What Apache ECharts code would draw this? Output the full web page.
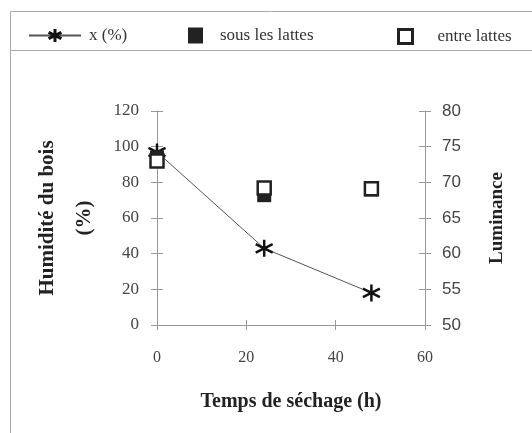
<!DOCTYPE html>
<html><head><meta charset="utf-8">
<script src="https://cdn.jsdelivr.net/npm/echarts@6/dist/echarts.min.js"></script>
<style>html,body{margin:0;padding:0;background:#fff}#c{width:532px;height:433px}</style>
</head><body><div id="c"></div>
<script>
const times = [0, 24, 48];
const humidity = [97, 43, 18];
const lumSous = [73.5, 68.2, 69];
const lumEntre = [73, 69.2, 69.1];
const xTicks = [0, 20, 40, 60];
const names = ['x (%)', 'sous les lattes', 'entre lattes'];

const star = 'path://M0,-10L0,10M-8.66,-5L8.66,5M-8.66,5L8.66,-5';
const serif = 'Liberation Serif';
const axisCol = '#999';

const chart = echarts.init(document.getElementById('c'));
const baseY = (min, max, itv, pos) => ({
  type: 'value', position: pos, min, max, interval: itv,
  axisLine: {show: true, onZero: false, lineStyle: {color: axisCol, width: 1}},
  axisTick: {show: true, length: 6, lineStyle: {color: axisCol}},
  splitLine: {show: false}
});
const leg = (item, left, w, h, pad) => ({
  data: [item], left, top: 22 + (16 - h) / 2, itemWidth: w, itemHeight: h,
  textStyle: {fontFamily: serif, fontSize: 17, color: '#333', padding: [0, 0, 0, pad]},
  selectedMode: false
});
chart.setOption({
  animation: false,
  backgroundColor: '#fff',
  grid: {left: 157, right: 107, top: 111, bottom: 108, containLabel: false, outerBoundsMode: 'none'},
  legend: [
    leg({name: names[0], itemStyle: {borderWidth: 3}}, 23, 52, 16, 3),
    leg({name: names[1], icon: 'rect', itemStyle: {color: '#222'}}, 183, 15, 16, 12),
    leg({name: names[2], icon: 'rect', itemStyle: {color: '#fff', borderColor: '#222', borderWidth: 3}}, 392, 14, 14, 20)
  ],
  xAxis: [
    {type: 'value', min: xTicks[0], max: xTicks[3], interval: 20,
     axisLine: {show: true, onZero: false, lineStyle: {color: axisCol}},
     axisTick: {show: true, length: 5, lineStyle: {color: axisCol}},
     axisLabel: {fontFamily: serif, fontSize: 16, color: '#444', margin: 25},
     splitLine: {show: false},
     name: 'Temps de séchage (h)', nameLocation: 'middle', nameGap: 67,
     nameTextStyle: {fontFamily: serif, fontSize: 20, fontWeight: 'bold', color: '#222'}},
    {type: 'value', position: 'bottom', min: 0, max: 60, interval: 20,
     axisLine: {show: false, onZero: false}, axisLabel: {show: false}, splitLine: {show: false},
     axisTick: {show: true, inside: true, length: 5, lineStyle: {color: axisCol}}}
  ],
  yAxis: [
    Object.assign(baseY(0, 120, 20, 'left'), {
      axisLabel: {fontFamily: serif, fontSize: 17, color: '#444', margin: 18},
      name: 'Humidité du bois\n(%)', nameLocation: 'middle', nameGap: 51, nameRotate: 90,
      nameTextStyle: {fontFamily: serif, fontSize: 21, fontWeight: 'bold', color: '#222', lineHeight: 37}
    }),
    Object.assign(baseY(50, 80, 5, 'right'), {
      axisLabel: {fontFamily: 'Liberation Sans', fontSize: 17, color: '#444', margin: 17},
      name: 'Luminance', nameLocation: 'middle', nameGap: 63, nameRotate: 90,
      nameTextStyle: {fontFamily: serif, fontSize: 19, fontWeight: 'bold', color: '#222'}
    }),
    Object.assign(baseY(0, 120, 20, 'left'), {axisLine: {show: false, onZero: false}, axisLabel: {show: false},
      axisTick: {show: true, inside: true, length: 6, lineStyle: {color: axisCol}}}),
    Object.assign(baseY(50, 80, 5, 'right'), {axisLine: {show: false, onZero: false}, axisLabel: {show: false},
      axisTick: {show: true, inside: true, length: 6, lineStyle: {color: axisCol}}})
  ],
  graphic: [
    {type: 'rect', shape: {x: 10.5, y: 11.5, width: 600, height: 600}, silent: true,
     style: {fill: 'none', stroke: '#aaa', lineWidth: 1}},
    {type: 'line', shape: {x1: 10, y1: 50.5, x2: 532, y2: 50.5}, silent: true,
     style: {stroke: '#aaa', lineWidth: 1}}
  ],
  series: [
    {name: names[0], type: 'line', yAxisIndex: 0,
     data: times.map((t, i) => [t, humidity[i]]),
     symbol: star, symbolSize: 17,
     lineStyle: {color: '#555', width: 1},
     itemStyle: {color: 'transparent', borderColor: '#111', borderWidth: 2.5},
     z: 2},
    {name: names[1], type: 'scatter', yAxisIndex: 1,
     data: times.map((t, i) => [t, lumSous[i]]),
     symbol: 'rect', symbolSize: 14,
     itemStyle: {color: '#222', opacity: 1}, z: 3},
    {name: names[2], type: 'scatter', yAxisIndex: 1,
     data: times.map((t, i) => [t, lumEntre[i]]),
     symbol: 'rect', symbolSize: 13,
     itemStyle: {color: '#fff', borderColor: '#222', borderWidth: 2.5, opacity: 1}, z: 4}
  ]
});
</script></body></html>
